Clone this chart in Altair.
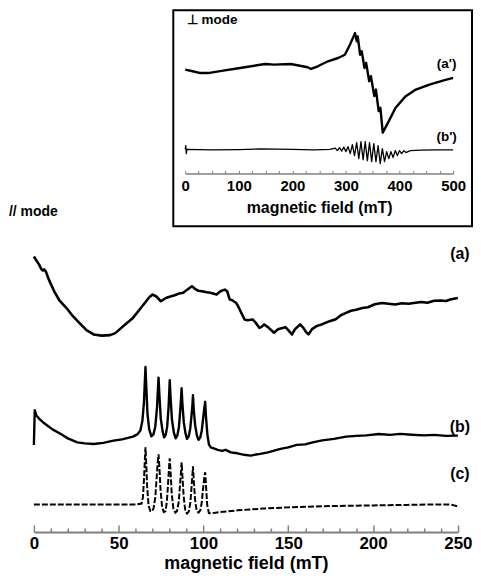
import altair as alt
import pandas as pd

FONT = "Liberation Sans"

# ---------------- main chart (// mode) ----------------
a_x = [0, 1.5, 3, 4.5, 5.3, 6, 7, 9, 12, 15, 19.8, 23, 27.5, 31, 35.2, 40, 44.9, 48, 50.7, 54,
       58.4, 62, 66.2, 68, 70, 72, 74.9, 77.8, 80, 83, 85.5, 88, 90, 93.2, 95, 97, 99, 102, 104,
       107.7, 110, 112.6, 114, 115.5, 117, 119.3, 121, 124.2, 126, 129, 131, 132.9, 134, 135.8,
       138, 141.6, 144, 146, 148.3, 150, 152.2, 154, 157, 159, 160.5, 161.9, 164, 166.7, 170,
       174.4, 178, 181, 184.1, 187, 190, 193.7, 197, 201, 205.3, 209, 213, 217, 221, 225, 228.5,
       232, 236, 240.1, 243, 246, 250]
a_y = [276.7, 272.7, 268.7, 263.7, 262.7, 263.7, 261.7, 252.7, 241.7, 232.7, 223.7, 216.7, 208.7,
       202.7, 198.4, 197.2, 197.7, 199.7, 203.7, 208.7, 215, 222.7, 231.7, 235.7, 238.4, 236.7,
       231.7, 235, 236.2, 237.7, 239.4, 240.2, 242.7, 246.7, 244.2, 242.2, 241.7, 240.7, 240.2,
       238.4, 241.7, 243.4, 241.7, 233.4, 232.7, 230, 224.7, 213.4, 212.7, 213.4, 209.7, 205,
       205.7, 208.4, 205.7, 200, 203.7, 204.7, 205.7, 202.7, 198.4, 203.7, 208.4, 204.7, 200.7,
       198.4, 203.7, 206.7, 208.7, 211.7, 213.7, 217.7, 220, 222.2, 223.2, 225, 225.7, 228.7,
       230, 229.2, 228.4, 229.7, 229.2, 230.2, 231, 230.2, 232.2, 232.4, 231.9, 233.7, 235]

b_x = [0, 0.5, 1.5, 3.3, 5.5, 8.1, 11, 15.9, 20, 25.6, 30, 35.2, 41, 46.9, 52, 58.4, 61, 62.8,
       64.0, 64.9, 65.4, 65.8, 66.3, 67.0, 68.0, 69.3, 70.5, 71.6, 72.6, 73.1, 73.5, 74.0, 74.8,
       75.9, 76.8, 77.8, 78.6, 79.4, 79.8, 80.1, 80.6, 81.4, 82.5, 83.6, 84.6, 85.5, 86.3, 86.8,
       87.1, 87.6, 88.4, 89.4, 90.3, 91.3, 92.2, 93.0, 93.5, 93.8, 94.3, 95.1, 96.1, 97.1, 98.1,
       99.0, 99.8, 100.4, 101.0, 101.5, 102.3, 103.2, 104.3, 106, 108.4, 111, 113, 116.2, 120,
       124, 127.8, 130, 133.5, 138, 145.4, 150, 155, 160, 164.4, 170, 177, 184.1, 190, 196,
       203.4, 210, 216, 222.8, 230, 236, 243, 250]
b_y = [87.4, 122.4, 117, 113.4, 110, 106.7, 103, 98.4, 94, 90, 89, 88.4, 89.5, 91.7, 93, 95.7,
       98, 102, 112, 130, 150, 165.7, 145, 118, 103, 96, 98, 106, 125, 142, 155, 138, 114, 101,
       95, 98, 106, 125, 140, 152.4, 135, 113, 100, 94, 97, 105, 122, 135, 144.4, 128, 110, 99,
       93.5, 96, 104, 118, 128, 137.4, 122, 107, 97, 92.5, 95, 102, 114, 123, 130.7, 115, 98, 88,
       85, 84, 82.4, 81.5, 82.5, 80, 79, 77.5, 76.7, 77.5, 78.4, 80, 83.4, 85, 87.5, 88, 90, 92,
       93.5, 95.7, 96.5, 97, 98.4, 97.5, 98.5, 97.7, 97, 97.5, 96.5, 96.7]

c_x = [0, 20, 40, 60, 63.5, 64.3, 65.0, 65.5, 65.8, 66.2, 66.8, 67.6, 68.6, 69.6, 70.6, 71.6,
       72.4, 73.0, 73.5, 74.0, 74.7, 75.6, 76.6, 77.6, 78.4, 79.1, 79.7, 80.1, 80.6, 81.3, 82.3,
       83.4, 84.4, 85.4, 86.2, 86.8, 87.1, 87.6, 88.3, 89.3, 90.3, 91.3, 92.3, 93.0, 93.5, 93.8,
       94.3, 95.0, 96.0, 97.1, 98.2, 99.0, 99.8, 100.5, 101.0, 101.5, 102.2, 103.2, 104.5, 110,
       120, 135, 150, 175, 200, 220, 240, 246, 250]
c_y = [27.7, 27.7, 27.7, 27.7, 28.5, 35, 55, 75, 85, 70, 45, 27, 21, 20.5, 24, 35, 55, 70, 78,
       65, 42, 25, 20, 21, 30, 48, 65, 74, 60, 38, 23, 19.5, 21, 30, 48, 62, 70, 56, 36, 21,
       18.5, 20.5, 30, 46, 58, 66, 52, 33, 21, 19.5, 22, 30, 44, 55, 60, 46, 27, 19, 18.7, 20,
       21.7, 23.5, 24.7, 26, 26.7, 27.2, 27.7, 27.5, 25.7]

main_labels = ["(a)", "(b)", "(c)"]
main_label_x = [251.2, 251.2, 251.2]
main_label_y = [278.7, 105.7, 57.7]

main_tick_labels = [0, 50, 100, 150, 200, 250]
main_minor_ticks = list(range(0, 251, 10))

# ---------------- inset (⊥ mode) ----------------
ap_x = [0, 13.9, 26.5, 45.5, 70.7, 102.3, 133.8, 149.6, 165.4, 197, 228.5, 234.8, 247.5, 266.4,
        285.3, 298, 307.4, 316.9, 320.1, 322, 326.4, 329.5, 334.6, 337.7, 343.4, 346.6, 352.9,
        356, 361.1, 364.3, 368.7, 376.9, 392.7, 411.6, 430.5, 455.8, 481, 500]
ap_y = [104.3, 102.7, 101, 101, 103.3, 106, 108.7, 110, 109.3, 110, 106.7, 105, 107.7, 112.7,
        116, 119.3, 129.3, 141, 132.7, 137.7, 119.3, 122.7, 106, 111, 92.7, 97.7, 77.7, 84.3,
        62.7, 66, 41, 49.3, 66, 77.7, 84.3, 89.3, 93.3, 96]

bp_x = [0, 1, 2, 3, 50, 100, 140, 200, 240, 270, 280, 284, 288, 292, 296, 300, 304, 308, 312,
        316, 320, 324, 328, 332, 336, 340, 344, 348, 352, 356, 360, 364, 368, 372, 376, 380,
        384, 388, 392, 396, 400, 404, 408, 412, 420, 440, 470, 500]
bp_y = [24.3, 28, 20, 24.3, 23.7, 24, 24.7, 24.3, 23.7, 24.3, 25.5, 23, 26, 22.5, 26.5, 22, 27,
        20, 29, 18, 31, 15, 32, 14, 32, 13, 31, 12, 30, 12, 28, 10, 25, 12, 22, 15, 22, 16, 23,
        18, 23, 20, 23, 21, 23, 23.5, 23.7, 23.7]

inset_labels = ["⊥ mode", "(a')", "(b')"]
inset_label_x = [3, 488, 488]
inset_label_y = [154, 110, 37]
inset_label_size = [13.5, 13.5, 13.5]

inset_tick_labels = [0, 100, 200, 300, 400, 500]
inset_minor_ticks = list(range(0, 501, 25))

side_label = ["// mode"]
side_label_x = [-25]
side_label_y = [14]

# ---------------- sizes ----------------
MAIN_W, MAIN_H = 425.8, 287
INSET_W, INSET_H = 300, 217
SPACER_W = 138
AXIS_GREY = "#808080"

# ---------------- main chart ----------------
xs_main = alt.Scale(domain=[0, 250], nice=False, zero=False)
ys_main = alt.Scale(domain=[0, 287], nice=False, zero=False)

df_a = pd.DataFrame({"x": a_x, "y": a_y})
df_b = pd.DataFrame({"x": b_x, "y": b_y})
df_c = pd.DataFrame({"x": c_x, "y": c_y})
df_ml = pd.DataFrame({"x": main_label_x, "y": main_label_y, "t": main_labels})

axis_main_bottom = alt.Axis(
    orient="bottom", values=main_tick_labels, ticks=False, tickSize=0, domain=False, grid=False,
    labelFont=FONT, labelFontWeight="bold", labelFontSize=17, labelColor="black",
    labelPadding=4, labelFlush=False,
    title="magnetic field (mT)", titleFont=FONT, titleFontWeight="bold", titleFontSize=18,
    titleColor="black", titlePadding=3)
axis_main_top = alt.Axis(
    orient="top", offset=-MAIN_H, values=main_minor_ticks, labels=False, grid=False,
    domain=True, domainColor=AXIS_GREY, domainWidth=2, tickColor=AXIS_GREY, tickWidth=1.5,
    tickSize={"condition": {"test": "datum.value % 50 === 0", "value": 7}, "value": 4},
    title=None)

line_a = alt.Chart(df_a).mark_line(color="black", strokeWidth=2.6, strokeJoin="round").encode(
    x=alt.X("x:Q", scale=xs_main, axis=axis_main_bottom),
    y=alt.Y("y:Q", scale=ys_main, axis=None))
line_b = alt.Chart(df_b).mark_line(color="black", strokeWidth=2.4, strokeJoin="round").encode(
    x=alt.X("x:Q", scale=xs_main, axis=axis_main_top),
    y=alt.Y("y:Q", scale=ys_main, axis=None))
line_c = alt.Chart(df_c).mark_line(color="black", strokeWidth=2.0, strokeDash=[6, 2]).encode(
    x=alt.X("x:Q", scale=xs_main, axis=None),
    y=alt.Y("y:Q", scale=ys_main, axis=None))
text_main = alt.Chart(df_ml).mark_text(
    font=FONT, fontWeight="bold", fontSize=16, color="black", align="center", baseline="middle"
).encode(x=alt.X("x:Q", scale=xs_main, axis=None),
         y=alt.Y("y:Q", scale=ys_main, axis=None), text="t:N")

main = alt.layer(line_a, line_b, line_c, text_main).resolve_axis(x="independent").properties(
    width=MAIN_W, height=MAIN_H)

# ---------------- inset chart ----------------
xs_in = alt.Scale(domain=[0, 500], range=[12, 281], nice=False, zero=False)
ys_in = alt.Scale(domain=[-53, 164], nice=False, zero=False)

df_ap = pd.DataFrame({"x": ap_x, "y": ap_y})
df_bp = pd.DataFrame({"x": bp_x, "y": bp_y})
df_il = pd.DataFrame({"x": inset_label_x, "y": inset_label_y, "t": inset_labels, "s": inset_label_size})

axis_in_bottom = alt.Axis(
    orient="bottom", offset=-53, values=inset_tick_labels, ticks=False, tickSize=0, domain=False,
    grid=False, labelFont=FONT, labelFontWeight="bold", labelFontSize=15, labelColor="black",
    labelPadding=5, labelFlush=False,
    title="magnetic field (mT)", titleFont=FONT, titleFontWeight="bold", titleFontSize=16,
    titleColor="black", titlePadding=6)
axis_in_top = alt.Axis(
    orient="top", offset=-164, values=inset_minor_ticks, labels=False, grid=False,
    domain=True, domainColor=AXIS_GREY, domainWidth=1.5, tickColor=AXIS_GREY, tickWidth=1,
    tickSize=3, title=None)

line_ap = alt.Chart(df_ap).mark_line(color="black", strokeWidth=2.4, strokeJoin="round").encode(
    x=alt.X("x:Q", scale=xs_in, axis=axis_in_bottom),
    y=alt.Y("y:Q", scale=ys_in, axis=None))
line_bp = alt.Chart(df_bp).mark_line(color="black", strokeWidth=1.3, strokeJoin="round").encode(
    x=alt.X("x:Q", scale=xs_in, axis=axis_in_top),
    y=alt.Y("y:Q", scale=ys_in, axis=None))
in_text_c = alt.Chart(df_il).transform_filter("datum.x > 100").mark_text(
    font=FONT, fontWeight="bold", color="black", align="center", baseline="middle"
).encode(x=alt.X("x:Q", scale=xs_in, axis=None), y=alt.Y("y:Q", scale=ys_in, axis=None),
         text="t:N", size=alt.Size("s:Q", scale=None, legend=None))
in_text_l = alt.Chart(df_il).transform_filter("datum.x < 100").mark_text(
    font=FONT, fontWeight="bold", color="black", align="left", baseline="middle"
).encode(x=alt.X("x:Q", scale=xs_in, axis=None), y=alt.Y("y:Q", scale=ys_in, axis=None),
         text="t:N", size=alt.Size("s:Q", scale=None, legend=None))

inset = alt.layer(line_ap, line_bp, in_text_c, in_text_l).resolve_axis(x="independent").properties(
    width=INSET_W, height=INSET_H, view=alt.ViewBackground(stroke="black", strokeWidth=2))

# ---------------- spacer column holding the "// mode" caption ----------------
df_side = pd.DataFrame({"x": side_label_x, "y": side_label_y, "t": side_label})
spacer = alt.Chart(df_side).mark_text(
    font=FONT, fontWeight="bold", fontSize=14, color="black", align="left", baseline="middle"
).encode(
    x=alt.X("x:Q", scale=alt.Scale(domain=[0, SPACER_W], nice=False, zero=False), axis=None),
    y=alt.Y("y:Q", scale=alt.Scale(domain=[0, INSET_H], nice=False, zero=False), axis=None),
    text="t:N"
).properties(width=SPACER_W, height=INSET_H)

top = alt.hconcat(spacer, inset, spacing=0)
chart = alt.vconcat(top, main, spacing=18).properties(
    padding={"left": 0, "top": 0, "right": 0, "bottom": 0}
).configure_view(stroke="transparent")

chart.save("out.html", embed_options={"renderer": "svg", "actions": False})
